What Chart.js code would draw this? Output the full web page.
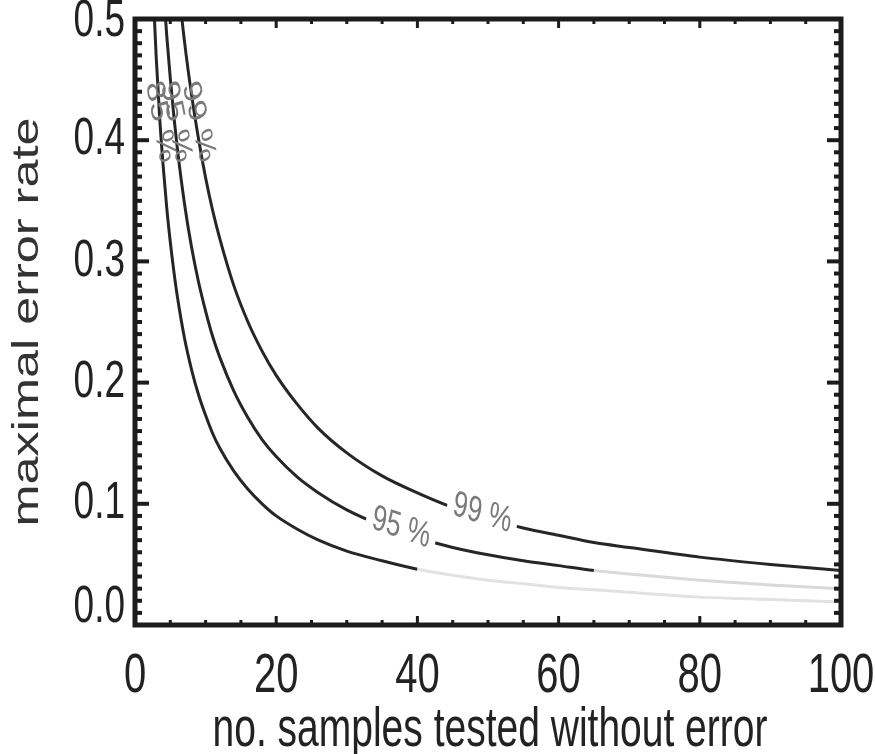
<!DOCTYPE html>
<html>
<head>
<meta charset="utf-8">
<script src="https://cdn.jsdelivr.net/npm/chart.js@4.4.1/dist/chart.umd.min.js"></script>
<style>
  html, body { margin: 0; padding: 0; background: #fff; }
  canvas { display: block; }
</style>
</head>
<body>
<canvas id="myChart" width="875" height="754"></canvas>
<script>
// samples tested (x) and the maximal error rate (y)
const samples = [2, 2.5, 3, 3.5, 4, 4.5, 5, 5.5, 6, 7, 8, 9, 10, 11, 12, 14, 16, 18, 20, 23, 26, 30, 35, 40, 45, 50, 55, 60, 65, 70, 80, 90, 100];
const rateLow = [0.613, 0.532, 0.469, 0.418, 0.378, 0.344, 0.316, 0.292, 0.271, 0.237, 0.211, 0.190, 0.173, 0.158, 0.146, 0.127, 0.112, 0.100, 0.090, 0.079, 0.070, 0.061, 0.053, 0.046, 0.041, 0.037, 0.034, 0.031, 0.029, 0.027, 0.023, 0.021, 0.019];
const rate95 = [0.776, 0.698, 0.632, 0.575, 0.527, 0.486, 0.451, 0.420, 0.393, 0.348, 0.312, 0.283, 0.259, 0.238, 0.221, 0.193, 0.171, 0.153, 0.139, 0.122, 0.109, 0.095, 0.082, 0.072, 0.064, 0.058, 0.053, 0.049, 0.045, 0.042, 0.037, 0.033, 0.030];
const rate99 = [0.900, 0.842, 0.785, 0.732, 0.684, 0.641, 0.602, 0.567, 0.536, 0.482, 0.438, 0.401, 0.369, 0.342, 0.319, 0.280, 0.250, 0.226, 0.206, 0.182, 0.162, 0.142, 0.123, 0.109, 0.097, 0.088, 0.080, 0.074, 0.068, 0.064, 0.056, 0.050, 0.045];

// where each curve turns from dark to pale grey
const fadeLow = 41;
const fade95 = 65;

const xTickValues = [0, 20, 40, 60, 80, 100];
const xTickLabels = ["0", "20", "40", "60", "80", "100"];
const yTickValues = [0, 0.1, 0.2, 0.3, 0.4, 0.5];
const yTickLabels = ["0.0", "0.1", "0.2", "0.3", "0.4", "0.5"];

// contour labels: text, x, y, angle
const curveLabels = [
    ["85 %", 3.6, 0.415, 1.32],
    ["95 %", 5.8, 0.415, 1.30],
    ["99 %", 9.0, 0.415, 1.25],
    ["95 %", 37.7, 0.080, 0.24],
    ["99 %", 49.2, 0.092, 0.22]
];

const dark = "#262626";
const STRETCH = 1.4;

function toPoints(values) {
    return samples.map((n, i) => ({ x: n, y: values[i] }));
}

function fadeAfter(limit, pale) {
    return ctx => ctx.p1.parsed.x > limit ? pale : dark;
}

function tallText(ctx, text, x, y, size, align, rot, color) {
    ctx.save();
    ctx.translate(x, y);
    ctx.scale(1, STRETCH);
    if (rot) ctx.rotate(rot);
    ctx.font = `${size}px "Liberation Sans", Arial, sans-serif`;
    ctx.textAlign = align;
    ctx.textBaseline = "middle";
    ctx.fillStyle = color;
    ctx.fillText(text, 0, 0);
    ctx.restore();
}

const frame = {
    id: "frame",
    afterDatasetsDraw(chart) {
        const ctx = chart.ctx;
        const xs = chart.scales.x;
        const ys = chart.scales.y;
        const { left, right, top, bottom } = chart.chartArea;

        // labels sitting on the curves
        curveLabels.forEach(([text, n, p, rot], i) => {
            const px = xs.getPixelForValue(n);
            const py = ys.getPixelForValue(p);
            ctx.save();
            ctx.translate(px, py);
            ctx.scale(1, STRETCH);
            ctx.rotate(rot);
            ctx.font = '26px "Liberation Sans", Arial, sans-serif';
            const w = ctx.measureText(text).width;
            if (i >= 3) {
                ctx.fillStyle = "#fff";
                ctx.fillRect(-w / 2 - 6, -11, w + 12, 22);
            }
            ctx.fillStyle = "#7a7a7a";
            ctx.textAlign = "center";
            ctx.textBaseline = "middle";
            ctx.fillText(text, 0, 0);
            ctx.restore();
        });

        ctx.save();
        ctx.fillStyle = "#1c1c1c";
        // y ticks, inward, both sides
        for (let k = 0; k <= 50; k++) {
            const py = ys.getPixelForValue(k / 100);
            const len = k % 10 === 0 ? 14 : 7;
            ctx.fillRect(left, py - 2, len, 4);
            ctx.fillRect(right - len, py - 2, len, 4);
        }
        // x ticks, inward, top and bottom
        for (let v = 0; v <= 100; v += 5) {
            const px = xs.getPixelForValue(v);
            const len = v % 20 === 0 ? 9 : 5;
            ctx.fillRect(px - 1.5, bottom - len, 3, len);
            ctx.fillRect(px - 1.5, top, 3, len);
        }
        ctx.strokeStyle = "#1c1c1c";
        ctx.lineWidth = 5;
        ctx.strokeRect(left, top, right - left, bottom - top);
        ctx.restore();

        // tick labels
        xTickValues.forEach((v, i) => {
            tallText(ctx, xTickLabels[i], xs.getPixelForValue(v), bottom + 52, 40, "center", 0, "#222");
        });
        yTickValues.forEach((v, i) => {
            let py = ys.getPixelForValue(v);
            py = Math.max(Math.min(py, bottom - 17), top + 3);
            tallText(ctx, yTickLabels[i], left - 10, py, 37, "right", 0, "#222");
        });

        // axis titles
        tallText(ctx, "no. samples tested without error", (left + right) / 2 + 2, 731, 39, "center", 0, "#222");
        tallText(ctx, "maximal error rate", 28, 322, 36, "center", -Math.PI / 2, "#333");
    }
};

new Chart(document.getElementById("myChart"), {
    type: "line",
    data: {
        datasets: [
            {
                data: toPoints(rateLow),
                borderColor: dark,
                borderWidth: 3,
                pointRadius: 0,
                cubicInterpolationMode: "monotone",
                segment: { borderColor: fadeAfter(fadeLow, "#e2e2e2") }
            },
            {
                data: toPoints(rate95),
                borderColor: dark,
                borderWidth: 3,
                pointRadius: 0,
                cubicInterpolationMode: "monotone",
                segment: { borderColor: fadeAfter(fade95, "#d9d9d9") }
            },
            {
                data: toPoints(rate99),
                borderColor: dark,
                borderWidth: 3,
                pointRadius: 0,
                cubicInterpolationMode: "monotone"
            }
        ]
    },
    options: {
        responsive: false,
        animation: false,
        layout: { padding: { left: 135, right: 34, top: 19, bottom: 129 } },
        plugins: {
            legend: { display: false },
            tooltip: { enabled: false }
        },
        scales: {
            x: { type: "linear", min: 0, max: 100, display: false },
            y: { type: "linear", min: 0, max: 0.5, display: false }
        }
    },
    plugins: [frame]
});
</script>
</body>
</html>
